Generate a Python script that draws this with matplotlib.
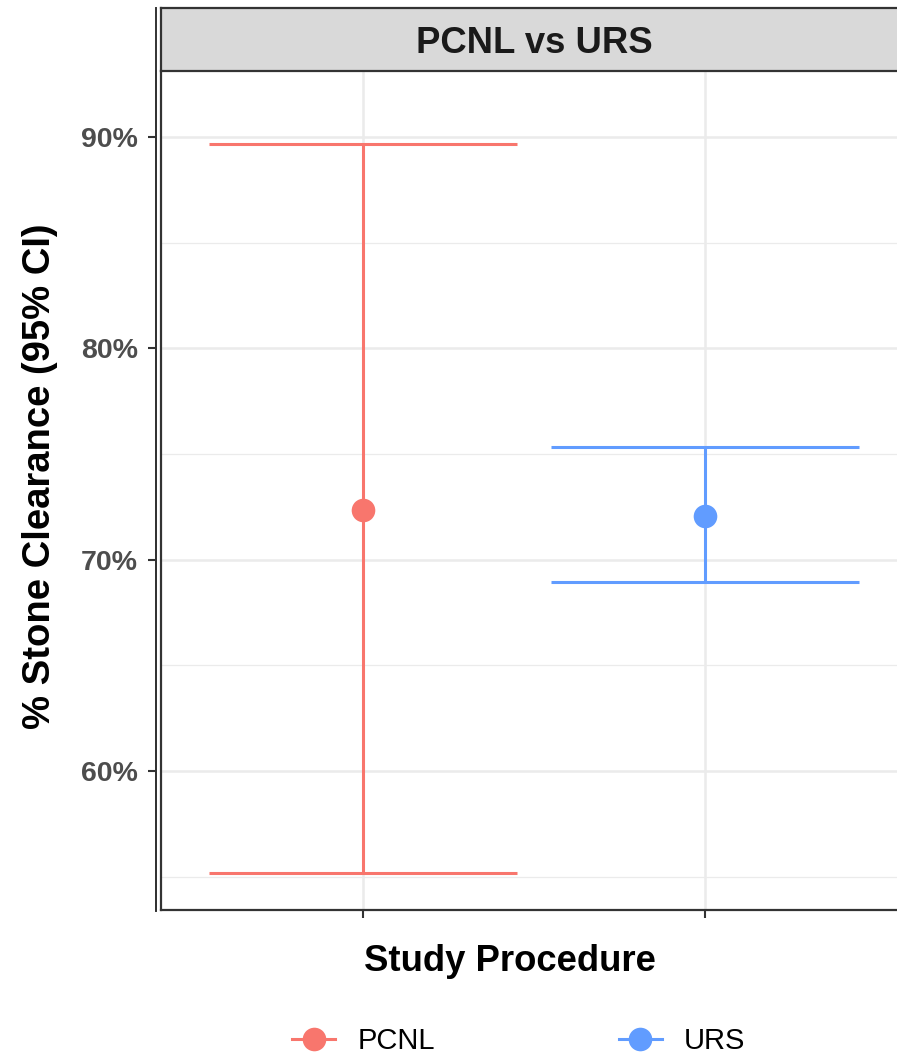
import matplotlib
matplotlib.use("Agg")
import matplotlib.pyplot as plt
from matplotlib.lines import Line2D
from matplotlib.ticker import FixedLocator, FuncFormatter

plt.rcParams['font.family'] = ['Liberation Sans', 'DejaVu Sans']

# data
procedures = ["PCNL", "URS"]
estimate = [72.37, 72.08]
lower = [55.17, 68.96]
upper = [89.67, 75.35]
colors = ["#F8766D", "#619CFF"]
major_ticks = [60, 70, 80, 90]
minor_ticks = [55, 65, 75, 85]

W, H = 897, 1056
fig = plt.figure(figsize=(W / 100, H / 100), dpi=100)

# main panel (right side runs past the picture edge, as in the reference)
px_left, px_top, px_bottom = 161, 71, 910
ax = fig.add_axes([px_left / W, 1 - px_bottom / H, (W - px_left) / W, (px_bottom - px_top) / H])
ax.set_xlim(0.409, 2.561)
ax.set_ylim(53.42, 93.12)

xpos = list(range(1, len(procedures) + 1))
ax.yaxis.set_major_locator(FixedLocator(major_ticks))
ax.yaxis.set_minor_locator(FixedLocator(minor_ticks))
ax.xaxis.set_major_locator(FixedLocator(xpos))
ax.yaxis.set_major_formatter(FuncFormatter(lambda v, p: f"{v:.0f}%"))
ax.set_xticklabels([])

ax.grid(True, which="major", color="#EBEBEB", lw=1.8, zorder=0)
ax.grid(True, which="minor", axis="y", color="#EBEBEB", lw=0.9, zorder=0)
ax.set_axisbelow(True)

for x, est, lo, hi, c in zip(xpos, estimate, lower, upper, colors):
    ax.vlines(x, lo, hi, color=c, lw=2.2, zorder=3)
    ax.hlines([lo, hi], x - 0.45, x + 0.45, color=c, lw=2.2, zorder=3)
    ax.plot([x], [est], "o", color=c, ms=17, mec="none", zorder=4)

for s in ["top", "right"]:
    ax.spines[s].set_visible(False)
ax.spines["bottom"].set_color("#333333")
ax.spines["bottom"].set_linewidth(1.6)
ax.spines["left"].set_position(("outward", 3.6))
ax.spines["left"].set_color("#333333")
ax.spines["left"].set_linewidth(1.4)

ax.tick_params(axis="y", which="major", length=6, width=1.5, color="#333333",
               labelsize=20.5, labelcolor="#4D4D4D", pad=7)
ax.tick_params(axis="y", which="minor", length=0)
ax.tick_params(axis="x", length=6, width=1.5, color="#333333")
for lab in ax.get_yticklabels():
    lab.set_fontweight("bold")

# strip
strip_top = 8
sax = fig.add_axes([px_left / W, 1 - px_top / H, (W - px_left) / W, (px_top - strip_top) / H])
sax.set_facecolor("#D9D9D9")
sax.set_xticks([])
sax.set_yticks([])
sax.spines["right"].set_visible(False)
for s in ["top", "bottom", "left"]:
    sax.spines[s].set_color("#333333")
    sax.spines[s].set_linewidth(1.6)
fig.text(534 / W, 1 - 53 / H, "PCNL vs URS", ha="center", va="baseline",
         fontsize=26.3, fontweight="bold", color="#1A1A1A")

# outer axis line running up through the strip, and panel border
fig.add_artist(Line2D([156 / W, 156 / W], [1 - 911 / H, 1 - strip_top / H],
                      color="#333333", lw=1.4, transform=fig.transFigure))
fig.add_artist(Line2D([px_left / W, px_left / W], [1 - px_bottom / H, 1 - px_top / H],
                      color="#333333", lw=1.6, transform=fig.transFigure))

# axis titles
fig.text(510 / W, 1 - 971 / H, "Study Procedure", ha="center", va="baseline",
         fontsize=26.3, fontweight="bold", color="black")
fig.text(40 / W, 1 - 476 / H, "% Stone Clearance (95% CI)", ha="center", va="center",
         rotation=90, fontsize=27.5, fontweight="bold", color="black")

# legend
handles = [Line2D([], [], color=c, lw=2.2, marker="o", ms=17, mec="none") for c in colors]
fig.legend(handles, procedures, loc="center left", bbox_to_anchor=(292 / W, 1 - 1041 / H),
           ncol=2, frameon=False, fontsize=21, borderpad=0, borderaxespad=0,
           handlelength=1.48, handletextpad=0.76, columnspacing=6.3, numpoints=1)

fig.savefig("out.png", dpi=100)
